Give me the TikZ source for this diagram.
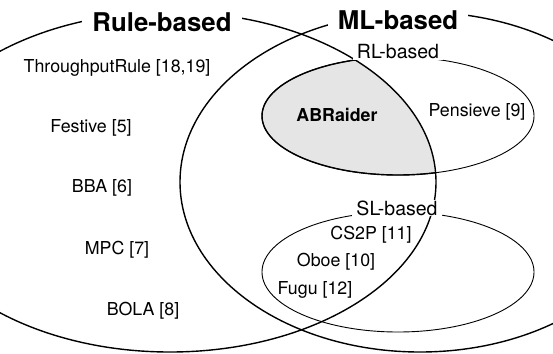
\documentclass[tikz,border=0pt]{standalone}
\usepackage{fontspec}
\setmainfont{TeX Gyre Heros}
\begin{document}
\begin{tikzpicture}[x=1pt,y=-1pt,
  bigset/.style={line width=1.4pt},
  subset/.style={line width=0.9pt},
  biglabel/.style={fill=white,inner xsep=10pt,inner ysep=2pt,font=\fontsize{25.8}{30}\selectfont\bfseries},
  sublabel/.style={fill=white,inner xsep=4pt,inner ysep=1pt,font=\fontsize{19.5}{23}\selectfont},
  item/.style={inner sep=0pt,font=\fontsize{17.8}{21}\selectfont}]
\useasboundingbox (0,0) rectangle (553,353);
\clip (0,0) rectangle (553,353);
\coordinate (rulec) at (170,182);
\coordinate (mlc) at (420,182);
\coordinate (rlc) at (398,116);
\coordinate (slc) at (398,272);
% shaded intersection
\begin{scope}
  \clip (rulec) ellipse [x radius=266pt, y radius=170pt];
  \fill[gray!20] (rlc) ellipse [x radius=136pt, y radius=59pt];
  \draw[line width=1.4pt] (rlc) ellipse [x radius=136pt, y radius=59pt];
\end{scope}
\draw[subset] (rlc) ellipse [x radius=136pt, y radius=59pt];
\draw[subset] (slc) ellipse [x radius=136pt, y radius=60pt];
\draw[bigset] (rulec) ellipse [x radius=266pt, y radius=170pt];
\draw[bigset] (mlc) ellipse [x radius=240pt, y radius=170pt];
% labels
\node[biglabel] (rule) at (162,22) {Rule-based};
\node[biglabel] (ml) at (398,20) {ML-based};
\node[sublabel] (rl) at (398,52) {RL-based};
\node[sublabel] (sl) at (397,208) {SL-based};
\node[item] (tr) at (117,68) {ThroughputRule [18,19]};
\node[item] (festive) at (91,128) {Festive [5]};
\node[item] (bba) at (102,188) {BBA [6]};
\node[item] (mpc) at (117,250) {MPC [7]};
\node[item] (bola) at (143,311) {BOLA [8]};
\node[item,font=\fontsize{17.8}{21}\selectfont\bfseries] (abr) at (337,115) {ABRaider};
\node[item] (pens) at (477,112) {Pensieve [9]};
\node[item] (cs2p) at (371,235) {CS2P [11]};
\node[item] (oboe) at (336,262) {Oboe [10]};
\node[item] (fugu) at (315,290) {Fugu [12]};
\end{tikzpicture}
\end{document}
